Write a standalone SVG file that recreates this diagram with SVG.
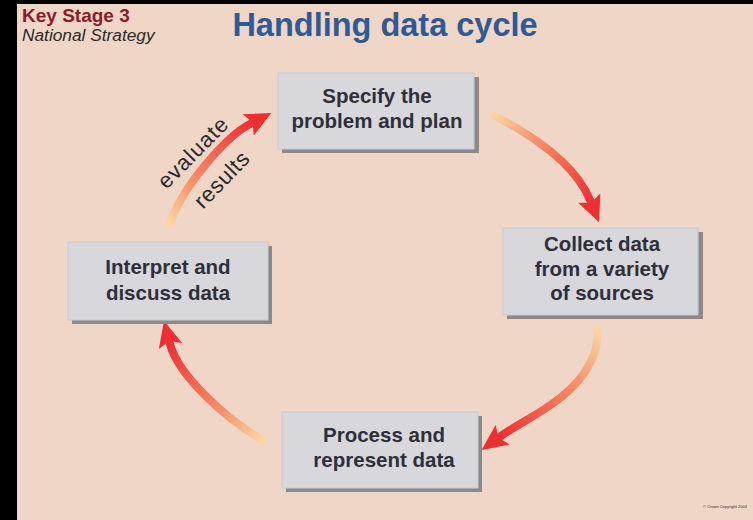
<svg xmlns="http://www.w3.org/2000/svg" width="753" height="520" viewBox="0 0 753 520">
<style>
.shadow{fill:#8a8a8c}
.box{fill:#d7d7dc;stroke:#c9c9cf;stroke-width:1}
.lbl{font-family:"Liberation Sans",Arial,sans-serif;font-weight:bold;font-size:20.5px;fill:#2f2f38;text-anchor:middle}
.conn{fill:none;stroke-width:8;stroke-linecap:round}
.ann{font-family:"Liberation Sans",Arial,sans-serif;font-size:22px;fill:#2a2a2a;text-anchor:middle}
</style>
<defs>
<marker id="ah" markerUnits="userSpaceOnUse" markerWidth="28" markerHeight="28" refX="2" refY="13" orient="auto" viewBox="0 0 28 26">
<path d="M0,1 L26,13 L0,25 L5,13 z" fill="#ee2f30"/>
</marker>
<linearGradient id="g1" gradientUnits="userSpaceOnUse" x1="495" y1="116" x2="590" y2="200">
<stop offset="0" stop-color="#fbd2a0"/><stop offset="0.35" stop-color="#f6946c"/><stop offset="1" stop-color="#ee3034"/>
</linearGradient>
<linearGradient id="g2" gradientUnits="userSpaceOnUse" x1="598" y1="330" x2="501" y2="436">
<stop offset="0" stop-color="#fbd6a2"/><stop offset="0.35" stop-color="#f6946c"/><stop offset="1" stop-color="#ee3034"/>
</linearGradient>
<linearGradient id="g3" gradientUnits="userSpaceOnUse" x1="262" y1="440" x2="170" y2="344">
<stop offset="0" stop-color="#fbd6a2"/><stop offset="0.35" stop-color="#f6946c"/><stop offset="1" stop-color="#ee3034"/>
</linearGradient>
<linearGradient id="g4" gradientUnits="userSpaceOnUse" x1="170" y1="224" x2="250" y2="124">
<stop offset="0" stop-color="#fbd6a2"/><stop offset="0.35" stop-color="#f6946c"/><stop offset="1" stop-color="#ee3034"/>
</linearGradient>
</defs>
<rect x="0" y="0" width="753" height="520" fill="#000"/>
<rect x="17" y="4" width="736" height="516" fill="#efd6c6"/>

<text x="22" y="22" font-family="'Liberation Sans',Arial,sans-serif" font-weight="bold" font-size="19" fill="#8b1c2c">Key Stage 3</text>
<text x="22" y="41" font-family="'Liberation Sans',Arial,sans-serif" font-style="italic" font-size="17.3" fill="#2a2a2a">National Strategy</text>
<text x="385" y="36" font-family="'Liberation Sans',Arial,sans-serif" font-weight="bold" font-size="32.5" fill="#2f5a93" text-anchor="middle">Handling data cycle</text>

<g id="connectors">
<path class="conn" stroke="url(#g1)" d="M495,116 Q572,156 590,200" marker-end="url(#ah)"/>
<path class="conn" stroke="url(#g2)" d="M598,330 C598,390 530,415 501,436" marker-end="url(#ah)"/>
<path class="conn" stroke="url(#g3)" d="M262,440 C225,418 178,375 170,344" marker-end="url(#ah)"/>
<path class="conn" stroke="url(#g4)" d="M170,224 C180,190 225,137 250,124" marker-end="url(#ah)"/>
<text class="ann" transform="translate(198,158) rotate(-45.5)" textLength="90" lengthAdjust="spacing">evaluate</text>
<text class="ann" transform="translate(227,185) rotate(-46)" textLength="69" lengthAdjust="spacing">results</text>
</g>

<g id="specify">
<rect class="shadow" x="282" y="77" width="197" height="76"/>
<rect class="box" x="278" y="73" width="196" height="76"/>
<text class="lbl" x="377" y="103">Specify the</text>
<text class="lbl" x="377" y="128">problem and plan</text>
</g>
<g id="collect">
<rect class="shadow" x="507" y="232" width="196" height="87"/>
<rect class="box" x="503" y="228" width="195" height="87"/>
<text class="lbl" x="602" y="251">Collect data</text>
<text class="lbl" x="602" y="276">from a variety</text>
<text class="lbl" x="602" y="300">of sources</text>
</g>
<g id="process">
<rect class="shadow" x="286" y="416" width="196" height="76"/>
<rect class="box" x="282" y="412" width="196" height="76"/>
<text class="lbl" x="384" y="442">Process and</text>
<text class="lbl" x="384" y="467">represent data</text>
</g>
<g id="interpret">
<rect class="shadow" x="72" y="246" width="200" height="78"/>
<rect class="box" x="68" y="242" width="200" height="78"/>
<text class="lbl" x="168" y="274">Interpret and</text>
<text class="lbl" x="168" y="300">discuss data</text>
</g>
<text x="703" y="508" font-family="'Liberation Sans',Arial,sans-serif" font-size="4" fill="#333">© Crown Copyright 2004</text>
</svg>
